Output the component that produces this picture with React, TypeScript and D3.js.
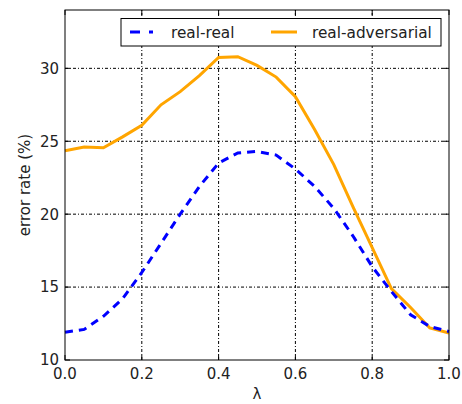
import * as d3 from "d3";
import React from "react";

const lambdas = [0, 0.05, 0.1, 0.15, 0.2, 0.25, 0.3, 0.35, 0.4, 0.45, 0.5, 0.55, 0.6, 0.65, 0.7, 0.75, 0.8, 0.85, 0.9, 0.95, 1.0];
const realReal = [11.9, 12.1, 13.0, 14.2, 16.0, 18.0, 20.0, 21.9, 23.5, 24.2, 24.3, 24.05, 23.1, 21.9, 20.4, 18.5, 16.4, 14.7, 13.1, 12.3, 11.95];
const realAdversarial = [24.35, 24.6, 24.55, 25.3, 26.1, 27.5, 28.4, 29.5, 30.75, 30.8, 30.2, 29.4, 28.05, 25.8, 23.4, 20.5, 17.7, 14.9, 13.6, 12.2, 11.85];
const xTicks = [0, 0.2, 0.4, 0.6, 0.8, 1.0];
const yTicks = [10, 15, 20, 25, 30];

export default function App() {
  const width = 462;
  const height = 404;
  const margin = { top: 10, right: 13, bottom: 44, left: 65 };
  const svgRef = React.useRef<SVGSVGElement | null>(null);

  React.useEffect(() => {
    const svg = d3.select(svgRef.current);
    svg.selectAll("*").remove();

    const x = d3.scaleLinear().domain([0, 1]).range([margin.left, width - margin.right]);
    const y = d3.scaleLinear().domain([10, 34]).range([height - margin.bottom, margin.top]);
    const font = "DejaVu Sans, sans-serif";

    // grid
    const grid = svg.append("g");
    xTicks.slice(1, -1).forEach((t) => {
      grid.append("line")
        .attr("x1", x(t)).attr("x2", x(t))
        .attr("y1", y(10)).attr("y2", y(34))
        .attr("stroke", "#000").attr("stroke-width", 1)
        .attr("stroke-dasharray", "3,2,1,2");
    });
    yTicks.slice(1).forEach((t) => {
      grid.append("line")
        .attr("x1", x(0)).attr("x2", x(1))
        .attr("y1", y(t)).attr("y2", y(t))
        .attr("stroke", "#000").attr("stroke-width", 1)
        .attr("stroke-dasharray", "3,2,1,2");
    });

    const line = d3.line<number>()
      .x((_, i) => x(lambdas[i]))
      .y((d) => y(d));

    svg.append("path")
      .attr("d", line(realAdversarial) ?? "")
      .attr("fill", "none")
      .attr("stroke", "#ffa500")
      .attr("stroke-width", 3);

    svg.append("path")
      .attr("d", line(realReal) ?? "")
      .attr("fill", "none")
      .attr("stroke", "#0000ff")
      .attr("stroke-width", 3)
      .attr("stroke-dasharray", "8,6");

    // frame
    svg.append("rect")
      .attr("x", x(0)).attr("y", y(34))
      .attr("width", x(1) - x(0)).attr("height", y(10) - y(34))
      .attr("fill", "none").attr("stroke", "#000").attr("stroke-width", 1);

    // inward ticks on all sides
    const tl = 5;
    xTicks.forEach((t) => {
      svg.append("line").attr("x1", x(t)).attr("x2", x(t))
        .attr("y1", y(10)).attr("y2", y(10) - tl).attr("stroke", "#000");
      svg.append("line").attr("x1", x(t)).attr("x2", x(t))
        .attr("y1", y(34)).attr("y2", y(34) + tl).attr("stroke", "#000");
      svg.append("text")
        .attr("x", x(t)).attr("y", y(10) + 19)
        .attr("text-anchor", "middle")
        .attr("font-family", font).attr("font-size", 15).attr("fill", "#222")
        .text(t.toFixed(1));
    });
    yTicks.forEach((t) => {
      svg.append("line").attr("x1", x(0)).attr("x2", x(0) + tl)
        .attr("y1", y(t)).attr("y2", y(t)).attr("stroke", "#000");
      svg.append("line").attr("x1", x(1)).attr("x2", x(1) - tl)
        .attr("y1", y(t)).attr("y2", y(t)).attr("stroke", "#000");
      svg.append("text")
        .attr("x", x(0) - 6).attr("y", y(t))
        .attr("dy", "0.36em")
        .attr("text-anchor", "end")
        .attr("font-family", font).attr("font-size", 15).attr("fill", "#222")
        .text(t);
    });

    // axis labels
    svg.append("text")
      .attr("x", (x(0) + x(1)) / 2).attr("y", 399)
      .attr("text-anchor", "middle")
      .attr("font-family", font).attr("font-size", 15).attr("fill", "#222")
      .text("λ");
    svg.append("text")
      .attr("transform", `translate(30,${(y(10) + y(34)) / 2}) rotate(-90)`)
      .attr("text-anchor", "middle")
      .attr("font-family", font).attr("font-size", 15).attr("fill", "#222")
      .text("error rate (%)");

    // legend
    const lg = svg.append("g");
    lg.append("rect")
      .attr("x", 121).attr("y", 18.5).attr("width", 320).attr("height", 27.5)
      .attr("fill", "#fff").attr("stroke", "#000").attr("stroke-width", 1);
    lg.append("line")
      .attr("x1", 130).attr("x2", 153).attr("y1", 32).attr("y2", 32)
      .attr("stroke", "#0000ff").attr("stroke-width", 3)
      .attr("stroke-dasharray", "10,9");
    lg.append("text")
      .attr("x", 171).attr("y", 32).attr("dy", "0.36em")
      .attr("font-family", font).attr("font-size", 15.3).attr("fill", "#222")
      .text("real-real");
    lg.append("line")
      .attr("x1", 271).attr("x2", 297).attr("y1", 32).attr("y2", 32)
      .attr("stroke", "#ffa500").attr("stroke-width", 3);
    lg.append("text")
      .attr("x", 312).attr("y", 32).attr("dy", "0.36em")
      .attr("font-family", font).attr("font-size", 15.3).attr("fill", "#222")
      .text("real-adversarial");
  }, []);

  return (
    <svg
      ref={svgRef}
      width={width}
      height={height}
      style={{ position: "absolute", left: 0, top: 0, background: "#fff" }}
    ></svg>
  );
}
